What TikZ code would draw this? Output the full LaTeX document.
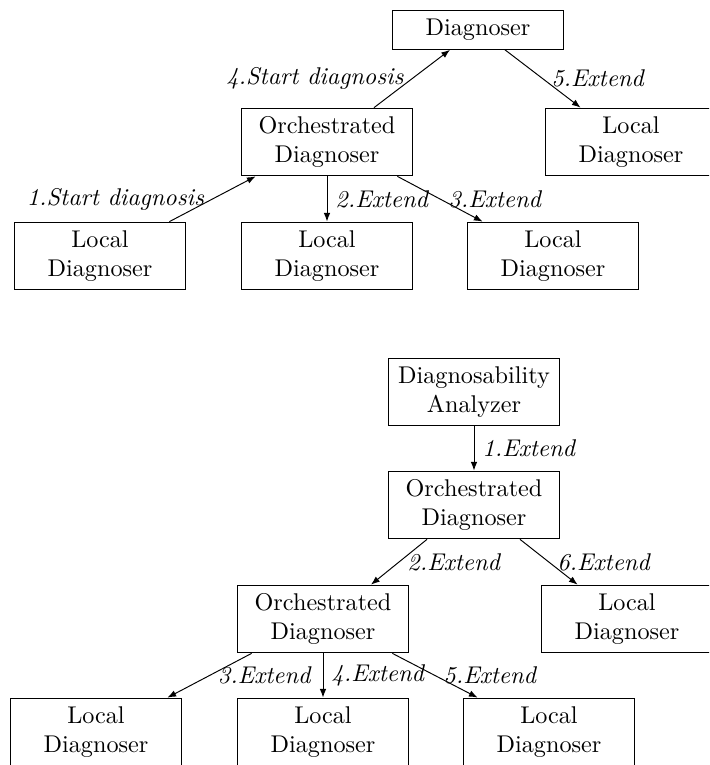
\documentclass[tikz,border=0pt]{standalone}
\usetikzlibrary{arrows.meta}
\begin{document}
\begin{tikzpicture}[x=0.4132pt, y=-0.4132pt,
  box/.style={draw, align=center, minimum width=71pt, minimum height=28pt, inner sep=2pt},
  onebox/.style={draw, align=center, minimum width=71pt, minimum height=16pt, inner sep=2pt},
  flow/.style={-{Latex[length=3.6pt, width=2.7pt]}},
  lab/.style={font=\itshape, inner sep=3.3pt}]
\useasboundingbox (0,0) rectangle (709,765);
\clip (0,0) rectangle (709,765);

% upper tree
\node[onebox] (diag) at (478,30) {Diagnoser};
\node[box] (orchA) at (327,142) {Orchestrated\\Diagnoser};
\node[box] (locR) at (631,142) {Local\\Diagnoser};
\node[box] (locA) at (100,256) {Local\\Diagnoser};
\node[box] (locB) at (327,256) {Local\\Diagnoser};
\node[box] (locC) at (553,256) {Local\\Diagnoser};

\draw[flow] ([xshift=-17*0.4132pt]locA.north east) -- node[lab, left] {1.Start diagnosis} ([xshift=15*0.4132pt]orchA.south west);
\draw[flow] (orchA.south) -- node[lab, right] {2.Extend} (locB.north);
\draw[flow] ([xshift=-16*0.4132pt]orchA.south east) -- node[lab, right] {3.Extend} ([xshift=16*0.4132pt]locC.north west);
\draw[flow] ([xshift=47*0.4132pt]orchA.north) -- node[lab, left] {4.Start diagnosis} ([xshift=-28*0.4132pt]diag.south);
\draw[flow] ([xshift=27*0.4132pt]diag.south) -- node[lab, right] {5.Extend} ([xshift=36*0.4132pt]locR.north west);

% lower tree
\node[box] (anl) at (474,392) {Diagnosability\\Analyzer};
\node[box] (orchB) at (474,505) {Orchestrated\\Diagnoser};
\node[box] (orchC) at (323,619) {Orchestrated\\Diagnoser};
\node[box] (locS) at (627,619) {Local\\Diagnoser};
\node[box] (locD) at (96,732) {Local\\Diagnoser};
\node[box] (locE) at (323,732) {Local\\Diagnoser};
\node[box] (locF) at (549,732) {Local\\Diagnoser};

\draw[flow] (anl.south) -- node[lab, right] {1.Extend} (orchB.north);
\draw[flow] ([xshift=-47*0.4132pt]orchB.south) -- node[lab, right] {2.Extend} ([xshift=48*0.4132pt]orchC.north);
\draw[flow] ([xshift=46*0.4132pt]orchB.south) -- node[lab, right] {6.Extend} ([xshift=37*0.4132pt]locS.north west);
\draw[flow] ([xshift=15*0.4132pt]orchC.south west) -- node[lab, right] {3.Extend} ([xshift=-15*0.4132pt]locD.north east);
\draw[flow] (orchC.south) -- node[lab, right] {4.Extend} (locE.north);
\draw[flow] ([xshift=-17*0.4132pt]orchC.south east) -- node[lab, right] {5.Extend} ([xshift=15*0.4132pt]locF.north west);
\end{tikzpicture}
\end{document}
